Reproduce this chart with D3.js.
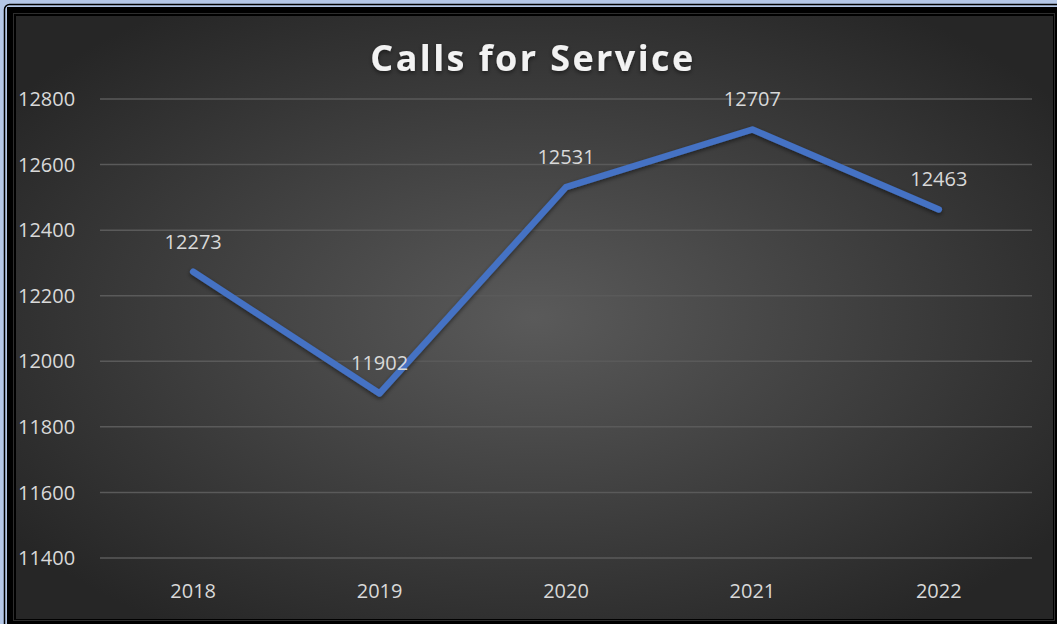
<!DOCTYPE html>
<html>
<head>
<meta charset="utf-8">
<script src="https://cdn.jsdelivr.net/npm/d3@7.9.0/dist/d3.min.js"></script>
<style>
  html, body { margin: 0; padding: 0; background: #b4c7e7; }
  svg { display: block; }
</style>
</head>
<body>
<svg id="chart" width="1057" height="624"></svg>
<script>
// data
const years = ['2018', '2019', '2020', '2021', '2022'];
const calls = [12273, 11902, 12531, 12707, 12463];
const yTicks = [11400, 11600, 11800, 12000, 12200, 12400, 12600, 12800];

const W = 1057, H = 624;
const svg = d3.select('#chart');
const defs = svg.append('defs');

// background gradient, light in the middle
const grad = defs.append('radialGradient')
  .attr('id', 'bg')
  .attr('cx', '50%').attr('cy', '50%').attr('r', '62%');
grad.append('stop').attr('offset', '0%').attr('stop-color', '#5a5a5a');
grad.append('stop').attr('offset', '100%').attr('stop-color', '#262626');

const shadow = defs.append('filter').attr('id', 'shadow')
  .attr('x', '-10%').attr('y', '-10%').attr('width', '120%').attr('height', '130%');
shadow.append('feDropShadow')
  .attr('dx', 0).attr('dy', 2).attr('stdDeviation', 2)
  .attr('flood-color', '#000').attr('flood-opacity', 0.5);

// frame
svg.append('rect').attr('x', 4.5).attr('y', 4.5).attr('width', W + 10).attr('height', H + 10)
  .attr('rx', 5).attr('fill', 'none').attr('stroke', '#000').attr('stroke-width', 1.5);
svg.append('rect').attr('x', 7).attr('y', 7).attr('width', W).attr('height', H)
  .attr('fill', '#000');
svg.append('rect').attr('x', 13.5).attr('y', 13.5).attr('width', 1041).attr('height', 607)
  .attr('fill', 'none').attr('stroke', '#2e2e2e').attr('stroke-width', 1);
svg.append('rect').attr('x', 16).attr('y', 16).attr('width', 1037).attr('height', 603)
  .attr('fill', 'url(#bg)');

// scales
const x = d3.scalePoint().domain(years).range([100, 1032]).padding(0.5);
const y = d3.scaleLinear().domain([11400, 12800]).range([558, 99]);

// gridlines
svg.append('g')
  .selectAll('line')
  .data(yTicks)
  .join('line')
  .attr('x1', 100).attr('x2', 1032)
  .attr('y1', d => y(d)).attr('y2', d => y(d))
  .attr('stroke', '#5a5a5a').attr('stroke-width', 1.5);

const font = '"Open Sans", "Liberation Sans", sans-serif';

// y axis labels
svg.append('g')
  .selectAll('text')
  .data(yTicks)
  .join('text')
  .attr('x', 18).attr('y', d => y(d))
  .attr('dy', '0.36em')
  .attr('font-family', font).attr('font-size', 20)
  .attr('fill', '#d9d9d9')
  .text(d => d);

// x axis labels
svg.append('g')
  .selectAll('text')
  .data(years)
  .join('text')
  .attr('x', d => x(d)).attr('y', 591)
  .attr('dy', '0.36em')
  .attr('text-anchor', 'middle')
  .attr('font-family', font).attr('font-size', 20)
  .attr('fill', '#d9d9d9')
  .text(d => d);

// line
const line = d3.line()
  .x((d, i) => x(years[i]))
  .y(d => y(d));

svg.append('path')
  .datum(calls)
  .attr('d', line)
  .attr('fill', 'none')
  .attr('stroke', '#4472c4')
  .attr('stroke-width', 6.5)
  .attr('stroke-linecap', 'round')
  .attr('stroke-linejoin', 'round')
  .attr('filter', 'url(#shadow)');

// data labels
svg.append('g')
  .selectAll('text')
  .data(calls)
  .join('text')
  .attr('x', (d, i) => x(years[i]))
  .attr('y', d => y(d) - 23)
  .attr('text-anchor', 'middle')
  .attr('font-family', font).attr('font-size', 20)
  .attr('fill', '#d9d9d9')
  .text(d => d);

// title
svg.append('text')
  .attr('x', 533).attr('y', 71)
  .attr('text-anchor', 'middle')
  .attr('font-family', font).attr('font-size', 36).attr('font-weight', 'bold')
  .attr('letter-spacing', 2.4)
  .attr('fill', '#f2f2f2')
  .attr('filter', 'url(#shadow)')
  .text('Calls for Service');
</script>
</body>
</html>
